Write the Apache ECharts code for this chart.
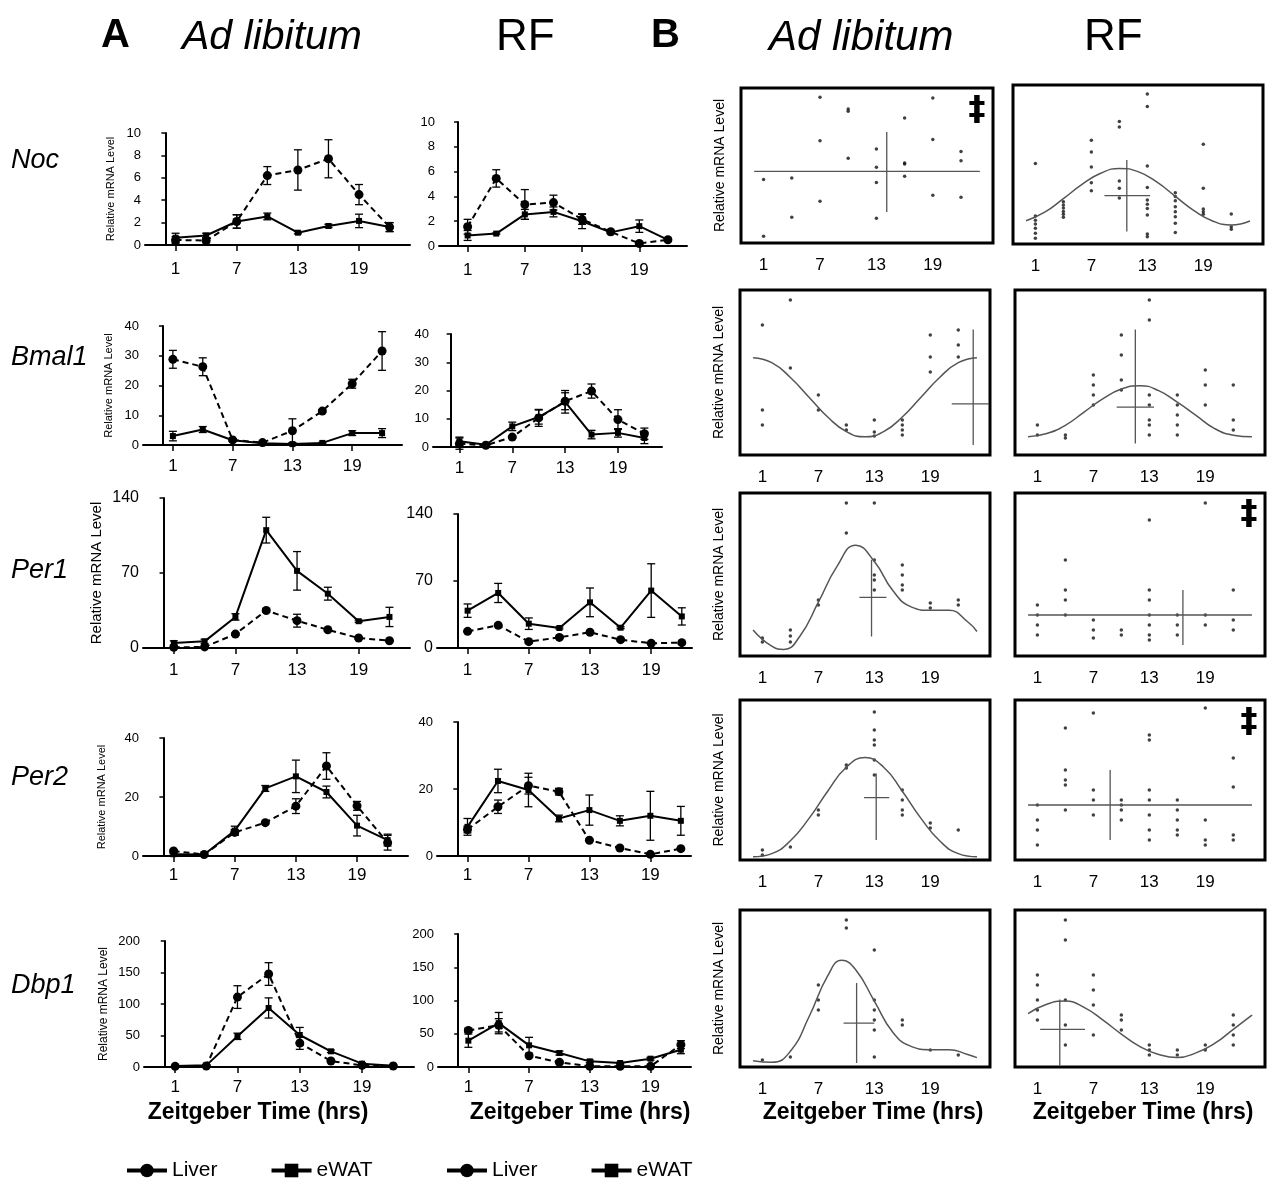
<!DOCTYPE html>
<html><head><meta charset="utf-8">
<script src="https://cdn.jsdelivr.net/npm/echarts@6/dist/echarts.min.js"></script>
<style>html,body{margin:0;padding:0;background:#fff}#c{width:1270px;height:1180px}</style>
</head><body><div id="c"></div>
<script>
// ---------- DATA ----------
const T = [1, 4, 7, 10, 13, 16, 19, 22];
const X_TICKS = [1, 7, 13, 19];
const GENES = ['Noc', 'Bmal1', 'Per1', 'Per2', 'Dbp1'];
const Y_MAX = [10, 40, 140, 40, 200];
const Y_INT = [2, 10, 70, 20, 50];

// Panel A (mean ± SEM)
const nocAdLiver = [0.45, 0.4, 2.1, 6.2, 6.7, 7.7, 4.5, 1.6];
const nocAdLiverSem = [0.3, 0.2, 0.6, 0.8, 1.8, 1.7, 0.9, 0.4];
const nocAdEwat = [0.65, 0.85, 2.1, 2.55, 1.1, 1.7, 2.15, 1.6];
const nocAdEwatSem = [0.4, 0.2, 0.6, 0.3, 0.1, 0.15, 0.6, 0.4];
const nocRfLiver = [1.55, 5.45, 3.35, 3.5, 2.15, 1.15, 0.2, 0.5];
const nocRfLiverSem = [0.6, 0.7, 1.2, 0.6, 0.4, 0.1, 0.1, 0.1];
const nocRfEwat = [0.85, 1.0, 2.55, 2.75, 2.0, 1.1, 1.6, 0.5];
const nocRfEwatSem = [0.4, 0.05, 0.4, 0.4, 0.6, 0.1, 0.5, 0.1];

const bmal1AdLiver = [28.8, 26.3, 1.7, 0.8, 4.8, 11.4, 20.6, 31.6];
const bmal1AdLiverSem = [3, 3, 0.3, 0.3, 4, 0.5, 1.5, 6.5];
const bmal1AdEwat = [3.0, 5.2, 1.6, 0.6, 0.3, 0.7, 4.0, 4.0];
const bmal1AdEwatSem = [1.6, 1, 0.3, 0.2, 0.3, 0.2, 0.8, 1.5];
const bmal1RfLiver = [1.2, 0.6, 3.5, 10.3, 16.2, 19.8, 9.7, 4.7];
const bmal1RfLiverSem = [2, 0.3, 0.3, 3, 3, 2.5, 3.5, 2];
const bmal1RfEwat = [2.0, 0.8, 7.3, 10.6, 16.0, 4.4, 5.0, 3.2];
const bmal1RfEwatSem = [1.5, 0.3, 1.5, 2.5, 4, 1.5, 1.5, 2];

const per1AdLiver = [0.6, 1, 13, 35, 25.5, 17, 9.3, 6.8];
const per1AdLiverSem = [0.5, 0.5, 1, 1.5, 6, 1, 1, 0.5];
const per1AdEwat = [4.7, 6.2, 29, 110, 72, 50.7, 25, 29];
const per1AdEwatSem = [2, 2, 3, 12, 18, 6, 1, 9];
const per1RfLiver = [17.4, 23.7, 6.6, 11.1, 16.4, 8.7, 4.9, 5.6];
const per1RfLiverSem = [1, 1, 1, 1, 1, 1, 0.5, 0.5];
const per1RfEwat = [39, 57.5, 25.4, 20.9, 47.7, 21.2, 60, 33];
const per1RfEwatSem = [7, 10, 6, 1, 15, 1, 28, 9];

const per2AdLiver = [1.7, 0.5, 8.0, 11.3, 16.9, 30.5, 17, 4.5];
const per2AdLiverSem = [0.3, 0.2, 1, 0.3, 2.5, 4.5, 1.5, 2.5];
const per2AdEwat = [0.6, 0.5, 8.6, 22.9, 27, 21.7, 10.3, 5.4];
const per2AdEwatSem = [0.3, 0.2, 1.5, 1, 5.5, 2, 3.5, 2];
const per2RfLiver = [7.9, 14.7, 21, 19.2, 4.7, 2.4, 0.5, 2.2];
const per2RfLiverSem = [1, 2, 2.5, 1, 0.3, 0.3, 0.2, 0.2];
const per2RfEwat = [8.7, 22.4, 19.7, 11.2, 13.7, 10.5, 12, 10.5];
const per2RfEwatSem = [2.5, 3.5, 5, 1, 4.5, 1.5, 7.3, 4.3];

const dbp1AdLiver = [1, 1.5, 111, 147.6, 38, 9.5, 2.6, 1.6];
const dbp1AdLiverSem = [1, 1, 18, 18, 10, 1, 1, 1];
const dbp1AdEwat = [1.6, 2.6, 48.7, 93.7, 50.8, 24.9, 5.3, 2.1];
const dbp1AdEwatSem = [1, 1, 5, 16, 12, 2, 1, 1];
const dbp1RfLiver = [55, 62.7, 17, 7, 1, 1, 1, 33.6];
const dbp1RfLiverSem = [3, 10, 2, 2, 1, 1, 1, 6];
const dbp1RfEwat = [39.6, 66, 32.6, 21, 8.5, 6, 12.5, 26];
const dbp1RfEwatSem = [10, 16, 12, 3, 2, 1, 2, 6];

// Panel B (relative units 0-100): individual samples [ZT, level]
const nocAdPts = [[1,41],[1,4.3],[4,42],[4,16.6],[7,94],[7,66],[7,27],[10,86.5],[10,85],[10,54.6],[13,60.6],[13,48.8],[13,39],[13,16],[16,80.6],[16,51.6],[16,51],[16,43],[19,93.5],[19,66.7],[19,30.8],[22,59],[22,53],[22,29.5]];
const nocRfPts = [[1,50.7],[1,17.6],[1,15],[1,12.6],[1,9.9],[1,6.7],[1,3.6],[4,26.6],[4,24.5],[4,22.6],[4,20.5],[4,18.7],[4,16.8],[7,65.2],[7,57.9],[7,48.4],[7,38.6],[7,33.5],[10,77],[10,73.6],[10,39.6],[10,35],[10,29],[13,94.3],[13,86.4],[13,49],[13,35.6],[13,27.7],[13,25],[13,22.4],[13,18.2],[13,6.3],[13,4.6],[16,32.3],[16,29.8],[16,27.2],[16,23.5],[16,20.3],[16,17.2],[16,13],[16,7.3],[19,62.7],[19,35],[19,22],[19,20.3],[19,18.7],[22,18.9],[22,10.9],[22,9.2]];
const bmal1AdPts = [[1,78.8],[1,27.3],[1,18.2],[4,93.9],[4,52.7],[7,36.4],[7,27.3],[10,18.2],[10,15.2],[13,21.2],[13,13.9],[13,11.5],[16,21.2],[16,18.2],[16,15.2],[16,12.1],[19,72.7],[19,59.4],[19,50.3],[22,75.8],[22,66.7],[22,59.4]];
const bmal1RfPts = [[1,18.2],[1,12.1],[4,12.1],[4,10.3],[7,48.5],[7,42.4],[7,36.4],[7,30.3],[10,72.7],[10,60.6],[10,45.5],[10,39.4],[13,93.9],[13,81.8],[13,36.4],[13,30.3],[13,21.2],[13,18.2],[13,12.1],[16,36.4],[16,30.3],[16,24.2],[16,18.2],[16,12.1],[19,51.5],[19,42.4],[19,30.3],[22,42.4],[22,21.2],[22,15.2]];
const per1AdPts = [[1,11],[1,8.6],[4,16],[4,12.3],[4,8.6],[7,34.4],[7,31.3],[10,93.9],[10,75.5],[13,93.9],[13,58.9],[13,49.7],[13,46.6],[13,40.5],[16,55.8],[16,49.7],[16,43.6],[16,40.5],[19,32.5],[19,29.4],[22,34.4],[22,31.3]];
const per1RfPts = [[1,31.3],[1,25.2],[1,19],[1,12.9],[4,58.9],[4,40.5],[4,34.4],[4,25.2],[7,22.1],[7,16],[7,11],[10,16],[10,12.9],[13,83.4],[13,40.5],[13,34.4],[13,25.2],[13,19],[13,12.9],[13,9.8],[16,25.2],[16,19],[16,12.9],[19,93.9],[19,25.2],[19,19],[22,40.5],[22,22.1],[22,16]];
const per2AdPts = [[1,6.3],[1,3.1],[4,8.1],[7,31.3],[7,28.1],[10,59.4],[10,57.5],[13,92.5],[13,81.3],[13,75],[13,71.9],[13,62.5],[13,53.1],[16,43.8],[16,37.5],[16,31.3],[16,28.1],[19,23.1],[19,20],[22,18.8]];
const per2RfPts = [[1,34.4],[1,25],[1,18.8],[1,9.4],[4,82.5],[4,56.3],[4,50],[4,46.9],[4,31.3],[7,91.9],[7,43.8],[7,37.5],[7,28.1],[10,37.5],[10,34.4],[10,31.3],[10,25],[13,78.1],[13,75],[13,43.8],[13,37.5],[13,28.1],[13,18.8],[13,12.5],[16,37.5],[16,31.3],[16,25],[16,18.8],[16,15.6],[19,95],[19,25],[19,12.5],[19,9.4],[22,63.8],[22,45.6],[22,15.6],[22,12.5]];
const dbp1AdPts = [[1,4.5],[4,6.4],[7,52.2],[7,42.7],[7,36.3],[10,93.6],[10,88.5],[13,74.5],[13,42.7],[13,36.3],[13,29.9],[13,23.6],[13,6.4],[16,29.9],[16,26.8],[19,10.8],[22,7.6]];
const dbp1RfPts = [[1,58.6],[1,52.2],[1,42.7],[1,36.3],[1,29.9],[4,93.6],[4,80.9],[4,42.7],[4,26.8],[4,14],[7,58.6],[7,49],[7,39.5],[7,20.4],[10,33.1],[10,29.9],[10,23.6],[13,14],[13,10.8],[13,7.6],[16,10.8],[16,7.6],[19,14],[19,10.8],[22,33.1],[22,26.8],[22,20.4],[22,14]];

// fitted curves [ZT, level]
const nocAdCurve = [];
const nocRfCurve = [[0,14.6],[2,20],[4,28.5],[6,37.5],[8,44.5],[10,47.5],[12,45.5],[14,39],[16,30],[18,21],[20,14.5],[22,12],[24,14.5]];
const bmal1AdCurve = [[0,59],[2,56],[4,47],[6,35],[8,23],[10,14.2],[12,11],[14,14.2],[16,23],[18,35],[20,47],[22,56],[24,59]];
const bmal1RfCurve = [[0,11],[2,13],[4,18],[6,26],[8,34],[10,40],[12,42],[14,39],[16,32],[18,24],[20,16],[22,12],[24,11]];
const per1AdCurve = [[0,16],[2,6],[3.3,4],[5,12],[7,33],[9,55],[11,68],[13,58],[15,40],[17,30],[19,28],[21,28],[23,21],[24,15]];
const per1RfCurve = [[0,25.2],[24,25.2]];
const per2AdCurve = [[0,2],[2,4],[4,12],[6,26],[8,43],[10,58],[12,64],[14,58],[16,43],[18,26],[20,12],[22,4],[24,2]];
const per2RfCurve = [[0,34.4],[24,34.4]];
const dbp1AdCurve = [[0,4],[2,3],[4,10],[6,32],[8,58],[9.5,68],[11,62],[13,42],[15,22],[17,13],[19,11],[21,11],[23,8],[24,6]];
const dbp1RfCurve = [[0,34],[2,40],[4,42],[6,38],[8,30],[10,21],[12,13],[14,8],[16,6],[18,9],[20,15],[22,24],[24,33]];

// acrophase / mesor crosshairs [ZT, level, ZT low, ZT high, level low, level high]
const nocAdCross = [14.1, 46.2, 0, 24, 20, 71.6];
const nocRfCross = [10.8, 30.4, 8.4, 13.3, 7.8, 52.8];
const bmal1AdCross = [23.6, 31, 21.3, 25.3, 6, 76];
const bmal1RfCross = [11.5, 29, 9.5, 13.5, 7, 76];
const per1AdCross = [12.7, 36, 11.4, 14.3, 12, 59];
const per1RfCross = [16.6, 25.2, 16.6, 16.6, 6.7, 40.5];
const per2AdCross = [13.2, 39, 11.9, 14.6, 12.5, 54];
const per2RfCross = [8.8, 34.4, 8.8, 8.8, 12.5, 56.3];
const dbp1AdCross = [11.1, 28, 9.7, 13, 2.5, 53.5];
const dbp1RfCross = [3.4, 24, 1.3, 6.1, 1, 43];

// ---------- LAYOUT ----------
const FONT = 'Liberation Sans, Arial, Helvetica, sans-serif';
const A_DATA = [
  [[nocAdLiver,nocAdLiverSem,nocAdEwat,nocAdEwatSem],[nocRfLiver,nocRfLiverSem,nocRfEwat,nocRfEwatSem]],
  [[bmal1AdLiver,bmal1AdLiverSem,bmal1AdEwat,bmal1AdEwatSem],[bmal1RfLiver,bmal1RfLiverSem,bmal1RfEwat,bmal1RfEwatSem]],
  [[per1AdLiver,per1AdLiverSem,per1AdEwat,per1AdEwatSem],[per1RfLiver,per1RfLiverSem,per1RfEwat,per1RfEwatSem]],
  [[per2AdLiver,per2AdLiverSem,per2AdEwat,per2AdEwatSem],[per2RfLiver,per2RfLiverSem,per2RfEwat,per2RfEwatSem]],
  [[dbp1AdLiver,dbp1AdLiverSem,dbp1AdEwat,dbp1AdEwatSem],[dbp1RfLiver,dbp1RfLiverSem,dbp1RfEwat,dbp1RfEwatSem]]
];
const B_DATA = [
  [[nocAdPts,nocAdCurve,nocAdCross],[nocRfPts,nocRfCurve,nocRfCross]],
  [[bmal1AdPts,bmal1AdCurve,bmal1AdCross],[bmal1RfPts,bmal1RfCurve,bmal1RfCross]],
  [[per1AdPts,per1AdCurve,per1AdCross],[per1RfPts,per1RfCurve,per1RfCross]],
  [[per2AdPts,per2AdCurve,per2AdCross],[per2RfPts,per2RfCurve,per2RfCross]],
  [[dbp1AdPts,dbp1AdCurve,dbp1AdCross],[dbp1RfPts,dbp1RfCurve,dbp1RfCross]]
];
// [left, top, width, height, xMax]
const A_RECT = [
  [[145,133,265,112,24],[439,122,248,124,24]],
  [[143,326,259,119,24],[433,334,229,113,24]],
  [[143,498,267,150,24],[437,514,255,134,23]],
  [[143,738,265,118,24],[437,722,254,134,23]],
  [[144,941,270,126,24],[438,934,253,133,23]]
];
const A_NAME = [[11,29],[11,29],[15,39],[11,36],[12,34]]; // fontSize, nameGap for y names
const A_LBL_MARGIN = [16, 13, 14, 11, 12];
const B_RECT = [
  [[741,88,252,155],[1013,85,250,159]],
  [[740,290,250,165],[1015,290,250,165]],
  [[740,493,250,163],[1015,493,250,163]],
  [[740,700,250,160],[1015,700,250,160]],
  [[740,910,250,157],[1015,910,250,157]]
];

const grids = [], xAxes = [], yAxes = [], series = [];
const blackLine = { lineStyle: { color: '#000', width: 2 } };

function errBars(idx, mean, sem) {
  return {
    type: 'custom', xAxisIndex: idx, yAxisIndex: idx, silent: true, z: 3,
    data: T.map((t, i) => [t, mean[i] - sem[i], mean[i] + sem[i]]),
    encode: { x: 0, y: [1, 2] },
    renderItem(params, api) {
      const x = api.value(0);
      const a = api.coord([x, api.value(1)]), b = api.coord([x, api.value(2)]);
      const w = 4, st = { stroke: '#000', lineWidth: 1.3 };
      return { type: 'group', children: [
        { type: 'line', shape: { x1: a[0], y1: a[1], x2: b[0], y2: b[1] }, style: st },
        { type: 'line', shape: { x1: a[0] - w, y1: a[1], x2: a[0] + w, y2: a[1] }, style: st },
        { type: 'line', shape: { x1: b[0] - w, y1: b[1], x2: b[0] + w, y2: b[1] }, style: st }
      ]};
    }
  };
}

for (let r = 0; r < 5; r++) {
  for (let c = 0; c < 2; c++) {
    const idx = grids.length;
    const [l, t, w, h, xm] = A_RECT[r][c];
    grids.push({ left: l, top: t, width: w, height: h });
    xAxes.push({
      type: 'value', gridIndex: idx, min: -2, max: xm,
      axisLine: blackLine, splitLine: { show: false },
      axisTick: { customValues: X_TICKS, length: 6, lineStyle: { color: '#000', width: 1.5 } },
      axisLabel: { customValues: X_TICKS, fontSize: 17, color: '#000', margin: A_LBL_MARGIN[r], fontFamily: FONT }
    });
    yAxes.push({
      type: 'value', gridIndex: idx, min: 0, max: Y_MAX[r], interval: Y_INT[r],
      axisLine: blackLine, splitLine: { show: false },
      axisTick: { length: 4, lineStyle: { color: '#000', width: 1.5 } },
      axisLabel: { fontSize: r === 2 ? 16 : 13, color: '#000', margin: 4, fontFamily: FONT },
      name: c === 0 ? 'Relative mRNA Level' : '', nameLocation: 'middle', nameGap: A_NAME[r][1],
      nameTextStyle: { fontSize: A_NAME[r][0], color: '#000', fontFamily: FONT }
    });
    const [lv, lvs, ew, ews] = A_DATA[r][c];
    series.push({
      name: 'eWAT', type: 'line', xAxisIndex: idx, yAxisIndex: idx, z: 4,
      data: T.map((tt, i) => [tt, ew[i]]), symbol: 'rect', symbolSize: 6,
      lineStyle: { color: '#000', width: 2 }, itemStyle: { color: '#000' }
    });
    series.push({
      name: 'Liver', type: 'line', xAxisIndex: idx, yAxisIndex: idx, z: 4,
      data: T.map((tt, i) => [tt, lv[i]]), symbol: 'circle', symbolSize: 9,
      lineStyle: { color: '#000', width: 2, type: [6, 4] }, itemStyle: { color: '#000' }
    });
    series.push(errBars(idx, ew, ews));
    series.push(errBars(idx, lv, lvs));
  }
}

for (let r = 0; r < 5; r++) {
  for (let c = 0; c < 2; c++) {
    const idx = grids.length;
    const [l, t, w, h] = B_RECT[r][c];
    grids.push({ left: l, top: t, width: w, height: h, show: true, borderColor: '#000', borderWidth: 3, backgroundColor: 'transparent' });
    xAxes.push({
      type: 'value', gridIndex: idx, min: -1.4, max: 25.4,
      axisLine: { show: false }, axisTick: { show: false }, splitLine: { show: false },
      axisLabel: { customValues: X_TICKS, fontSize: 17, color: '#000', margin: 14, fontFamily: FONT }
    });
    yAxes.push({
      type: 'value', gridIndex: idx, min: 0, max: 100,
      axisLine: { show: false }, axisTick: { show: false }, splitLine: { show: false }, axisLabel: { show: false },
      name: c === 0 ? 'Relative mRNA Level' : '', nameLocation: 'middle', nameGap: 14,
      nameTextStyle: { fontSize: 14, color: '#000', fontFamily: FONT }
    });
    const [pts, curve, cr] = B_DATA[r][c];
    series.push({ type: 'scatter', xAxisIndex: idx, yAxisIndex: idx, data: pts, symbolSize: 3.5, itemStyle: { color: '#111' }, silent: true });
    if (curve.length) series.push({ type: 'line', xAxisIndex: idx, yAxisIndex: idx, data: curve, smooth: 0.5, showSymbol: false, lineStyle: { color: '#555', width: 1.5 }, silent: true });
    series.push({ type: 'line', xAxisIndex: idx, yAxisIndex: idx, data: [[cr[2], cr[1]], [cr[3], cr[1]]], showSymbol: false, lineStyle: { color: '#555', width: 1.3 }, silent: true });
    series.push({ type: 'line', xAxisIndex: idx, yAxisIndex: idx, data: [[cr[0], cr[4]], [cr[0], cr[5]]], showSymbol: false, lineStyle: { color: '#555', width: 1.3 }, silent: true });
  }
}

const txt = (text, x, y, font, extra) => ({ type: 'text', x, y, style: Object.assign({ text, font, fill: '#000', verticalAlign: 'middle' }, extra || {}) });
const ZT = 'Zeitgeber Time (hrs)';
const graphic = [
  txt('A', 101, 36, 'bold 40px ' + FONT),
  txt('Ad libitum', 182, 38, 'italic 41px ' + FONT),
  txt('RF', 496, 38, '44px ' + FONT),
  txt('B', 651, 36, 'bold 40px ' + FONT),
  txt('Ad libitum', 769, 38, 'italic 42px ' + FONT),
  txt('RF', 1084, 38, '44px ' + FONT),
  txt('Noc', 11, 160, 'italic 27px ' + FONT),
  txt('Bmal1', 11, 357, 'italic 27px ' + FONT),
  txt('Per1', 11, 570, 'italic 27px ' + FONT),
  txt('Per2', 11, 777, 'italic 27px ' + FONT),
  txt('Dbp1', 11, 985, 'italic 27px ' + FONT),
  txt(ZT, 258, 1113, 'bold 23px ' + FONT, { align: 'center' }),
  txt(ZT, 580, 1113, 'bold 23px ' + FONT, { align: 'center' }),
  txt(ZT, 873, 1113, 'bold 23px ' + FONT, { align: 'center' }),
  txt(ZT, 1143, 1113, 'bold 23px ' + FONT, { align: 'center' }),
  txt('‡', 977, 111, 'bold 34px DejaVu Sans', { align: 'center' }),
  txt('‡', 1249, 515, 'bold 34px DejaVu Sans', { align: 'center' }),
  txt('‡', 1249, 723, 'bold 34px DejaVu Sans', { align: 'center' })
];

const legendBase = {
  data: ['Liver', 'eWAT'], top: 1155, itemWidth: 40, itemHeight: 17, itemGap: 52,
  textStyle: { fontSize: 21, color: '#000', fontFamily: FONT },
  lineStyle: { type: 'solid', width: 4, color: '#000' }, selectedMode: false
};

const chart = echarts.init(document.getElementById('c'), null, { renderer: 'canvas' });
chart.setOption({
  backgroundColor: '#fff', animation: false,
  grid: grids, xAxis: xAxes, yAxis: yAxes, series,
  legend: [Object.assign({ left: 120 }, legendBase), Object.assign({ left: 440 }, legendBase)],
  graphic
});
</script></body></html>
